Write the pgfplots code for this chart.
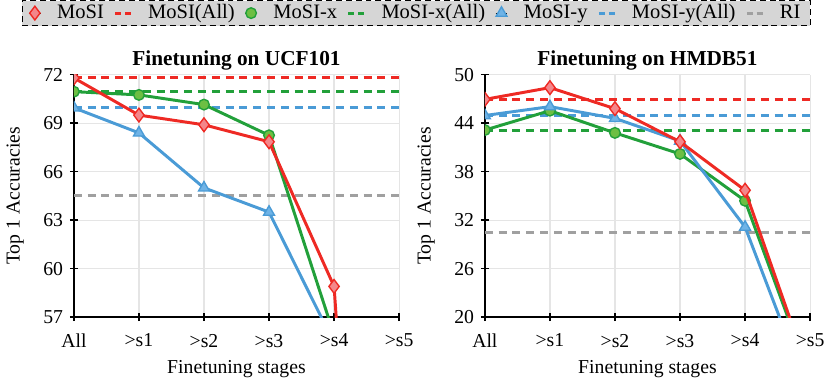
\documentclass[border=0pt]{standalone}
\usepackage{fontspec}
\setmainfont{Liberation Serif}
\usepackage{pgfplots}
\pgfplotsset{compat=1.18}

\definecolor{cred}{HTML}{EE2A24}
\definecolor{credf}{HTML}{F4868A}
\definecolor{cgreen}{HTML}{22A03A}
\definecolor{cgreenf}{HTML}{6DBF43}
\definecolor{cblue}{HTML}{4A9BD6}
\definecolor{cbluef}{HTML}{6FB3E6}
\definecolor{cgray}{HTML}{A0A0A0}
\definecolor{legfill}{HTML}{D6D6D6}

\pgfplotsset{
  stage/.style={
    width=165pt, height=123pt, scale only axis,
    xmin=0, xmax=5, xtick={0,...,5},
    xticklabels={All,>s1,>s2,>s3,>s4,>s5},
    axis x line*=bottom, axis y line*=left,
    axis line style={black, line width=0.9pt, -},
    tick style={black, line width=0.8pt},
    tick align=center, major tick length=4pt,
    grid=major, grid style={gray!20, line width=0.6pt},
    clip marker paths=true,
    font=\fontsize{10}{11}\selectfont,
    title style={font=\fontsize{10.8}{12}\selectfont\bfseries, yshift=-7pt},
    xlabel={Finetuning stages}, ylabel={Top 1 Accuracies},
    xticklabel style={yshift=-3pt},
    xlabel style={yshift=0.5pt}, ylabel style={yshift=3pt},
    /pgf/number format/assume math mode=true,
  },
  mosi/.style={cred, line width=1.5pt, mark=diamond*, mark size=3.5pt,
    mark options={fill=credf, draw=cred, line width=0.7pt}},
  mosix/.style={cgreen, line width=1.5pt, mark=*, mark size=2.7pt,
    mark options={fill=cgreenf, draw=cgreen, line width=0.7pt}},
  mosiy/.style={cblue, line width=1.5pt, mark=triangle*, mark size=3.2pt,
    mark options={fill=cbluef, draw=cblue, line width=0.7pt}},
  allline/.style={line width=1.5pt, dash pattern=on 4pt off 3pt, forget plot},
  shortdash/.style={line width=1.5pt, dash pattern=on 3pt off 2pt,
    legend image code/.code={\draw[##1] (0pt,0pt) -- (8pt,0pt);}},
  markleg/.style={legend image code/.code={\path (0pt,0pt) -- (6pt,0pt);
    \path[##1] plot coordinates {(3pt,0pt)};}},
}

\begin{document}
\begin{tikzpicture}
\begin{axis}[stage, title={Finetuning on UCF101},
  ymin=57, ymax=72, ytick={57,60,...,72},
  legend columns=7,
  legend style={at={(1.053,1.254)}, anchor=center, draw=black, densely dashed,
    line width=0.6pt, fill=legfill, font=\fontsize{10.4}{11}\selectfont,
    nodes={inner ysep=1.5pt},
    /tikz/every odd column/.append style={column sep=6pt},
    /tikz/every even column/.append style={column sep=3pt},
    inner xsep=3pt, inner ysep=0.5pt},
  legend cell align=left]
\addlegendimage{markleg, mark=diamond*, mark size=3.5pt, mark options={fill=credf, draw=cred, line width=0.7pt, solid}}
\addlegendentry{MoSI}
\addlegendimage{cred, shortdash}
\addlegendentry{MoSI(All)}
\addlegendimage{markleg, mark=*, mark size=2.7pt, mark options={fill=cgreenf, draw=cgreen, line width=0.7pt, solid}}
\addlegendentry{MoSI-x}
\addlegendimage{cgreen, shortdash}
\addlegendentry{MoSI-x(All)}
\addlegendimage{markleg, mark=triangle*, mark size=3.2pt, mark options={fill=cbluef, draw=cblue, line width=0.7pt, solid}}
\addlegendentry{MoSI-y}
\addlegendimage{cblue, shortdash}
\addlegendentry{MoSI-y(All)}
\addlegendimage{cgray, shortdash}
\addlegendentry{RI}
% full-finetuning reference lines
\addplot[allline, cred] coordinates {(0,71.8) (5,71.8)};
\addplot[allline, cgreen] coordinates {(0,70.95) (5,70.95)};
\addplot[allline, cblue] coordinates {(0,69.95) (5,69.95)};
\addplot[allline, cgray] coordinates {(0,64.5) (5,64.5)};
% stages
\addplot[mosiy, forget plot] coordinates {(0,69.95) (1,68.4) (2,65.0) (3,63.5) (4,55.4) (5,1)};
\addplot[mosix, forget plot] coordinates {(0,70.95) (1,70.75) (2,70.15) (3,68.25) (4,55.9) (5,1)};
\addplot[mosi, forget plot] coordinates {(0,71.8) (1,69.5) (2,68.9) (3,67.85) (4,58.9) (5,1)};
\end{axis}

\begin{axis}[stage, xshift=208.5pt, title={Finetuning on HMDB51},
  ymin=20, ymax=50, ytick={20,26,...,50}]
\addplot[allline, cred] coordinates {(0,46.9) (5,46.9)};
\addplot[allline, cgreen] coordinates {(0,43.1) (5,43.1)};
\addplot[allline, cblue] coordinates {(0,44.95) (5,44.95)};
\addplot[allline, cgray] coordinates {(0,30.45) (5,30.45)};
\addplot[mosix, forget plot] coordinates {(0,43.15) (1,45.55) (2,42.8) (3,40.2) (4,34.4) (5,12.5)};
\addplot[mosiy, forget plot] coordinates {(0,44.95) (1,46.05) (2,44.6) (3,41.8) (4,31.15) (5,10.1)};
\addplot[mosi, forget plot] coordinates {(0,46.95) (1,48.4) (2,45.8) (3,41.7) (4,35.7) (5,12.7)};
\end{axis}
\end{tikzpicture}
\end{document}
